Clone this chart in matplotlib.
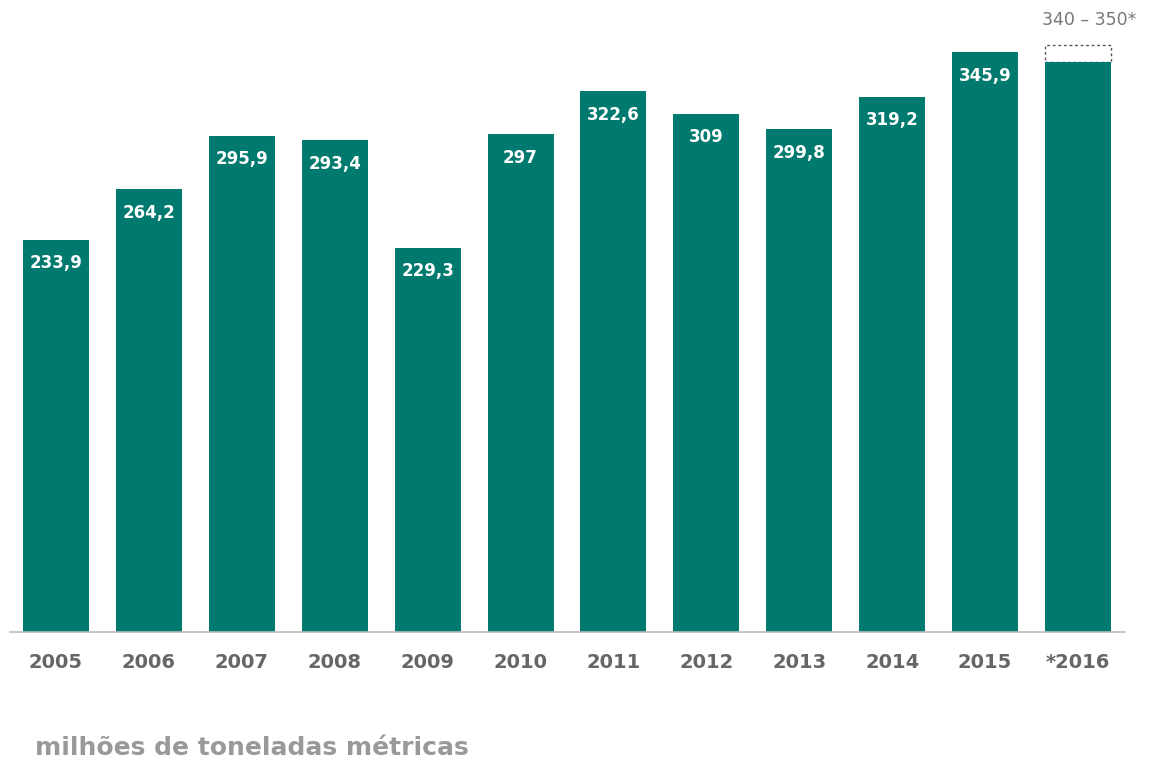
import matplotlib
matplotlib.use("Agg")
from matplotlib import pyplot as plt
import numpy as np

plt.rcParams["font.family"] = ["DejaVu Sans"]

years = ["2005", "2006", "2007", "2008", "2009", "2010", "2011", "2012", "2013", "2014", "2015", "*2016"]
values = [233.9, 264.2, 295.9, 293.4, 229.3, 297, 322.6, 309, 299.8, 319.2, 345.9, 340]
labels = ["233,9", "264,2", "295,9", "293,4", "229,3", "297", "322,6", "309", "299,8", "319,2", "345,9", ""]
range_low = 340
range_high = 350
range_label = "340 – 350*"

teal = "#00796e"

fig = plt.figure(figsize=(11.49, 7.67), dpi=100)
ax = fig.add_axes([10 / 1149, 135 / 767, 1115 / 1149, 632 / 767])

xs = np.arange(len(years))
ax.bar(xs, values, width=0.71, color=teal, zorder=2)

# dashed estimate box on top of 2016
ax.bar(xs[-1], range_high - range_low, bottom=range_low, width=0.71,
       facecolor="white", edgecolor="#555555", linestyle=(0, (2, 2)), linewidth=1, zorder=1)
ax.text(xs[-1] + 0.12, range_high + 15, range_label, ha="center", va="center",
        fontsize=12.5, color="#777777")

for x, v, lab in zip(xs, values, labels):
    if lab:
        ax.text(x, v - 14, lab, ha="center", va="center", fontsize=12,
                fontweight="bold", color="white")

ax.set_xlim(-0.495, 11.506)
ax.set_ylim(0, 377)
ax.set_xticks(xs)
ax.set_xticklabels(years, fontsize=14, fontweight="bold", color="#666666")
ax.tick_params(axis="x", length=0, pad=15)
ax.set_yticks([])
for side in ["top", "right", "left"]:
    ax.spines[side].set_visible(False)
ax.spines["bottom"].set_color("#bbbbbb")
ax.spines["bottom"].set_linewidth(1.2)

fig.text(35 / 1149, 1 - 748 / 767, "milhões de toneladas métricas", fontsize=18,
         fontweight="bold", color="#999999", va="center", ha="left")

fig.savefig("out.png", dpi=100)
